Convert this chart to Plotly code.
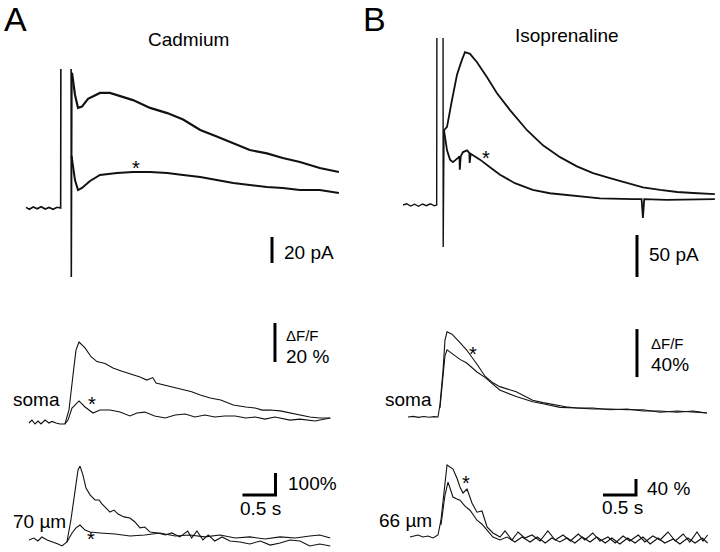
import plotly.graph_objects as go

# ---------------- DATA ----------------
# time in s (0 = stimulus), current in pA, fluorescence in % dF/F

# Panel A - whole-cell current
tA_base = [-0.53, -0.48, -0.42, -0.36, -0.30, -0.24, -0.18, -0.12, -0.06, -0.005]
iA_base = [0.5, -1.0, 0.8, -0.6, 1.0, -0.8, 0.4, -1.0, 0.6, 0.0]
tA_art = [0.0, 0.152, 0.156, 0.165]
iA_art = [200, 200, -53, 104]
tA_ctrl = [0.167, 0.212, 0.258, 0.318, 0.409, 0.515, 0.591, 0.742, 0.894, 1.09, 1.35,
           1.61, 1.85, 2.11, 2.36, 2.61, 2.86, 3.12, 3.36, 3.62, 3.92, 4.21]
iA_ctrl = [104, 87, 77, 78, 84, 87, 88.5, 88.5, 86, 83, 77,
           73, 68, 60, 55, 50, 44.6, 42, 38.5, 35.4, 30.8, 27.7]
tA_cd = [0.16, 0.212, 0.258, 0.318, 0.439, 0.591, 0.848, 1.09, 1.35, 1.61, 1.85,
         2.11, 2.36, 2.61, 2.86, 3.12, 3.36, 3.62, 3.92, 4.21]
iA_cd = [40, 21.5, 13.8, 15.4, 20.8, 25.4, 26.9, 27.7, 27.7, 26.9, 25.4,
         23.8, 21.5, 19.2, 17.7, 16.2, 15.4, 13.8, 13.8, 11.5]

# Panel B - whole-cell current
tB_base = [-0.515, -0.46, -0.40, -0.34, -0.28, -0.22, -0.16, -0.10, -0.04, -0.005]
iB_base = [0.0, 1.5, -1.2, 1.0, -1.5, 1.2, -0.8, 1.4, -1.0, 0.0]
tB_art = [0.0, 0.091, 0.094, 0.106]
iB_art = [300, 300, -50, 89]
tB_ctrl = [0.106, 0.152, 0.227, 0.303, 0.379, 0.424, 0.5, 0.606, 0.758, 0.909, 1.106,
           1.364, 1.606, 1.864, 2.12, 2.364, 2.62, 2.88, 3.12, 3.38, 3.64, 3.88, 4.21]
iB_ctrl = [89, 93, 125, 155, 173, 182, 180, 170, 152, 133, 113,
           89, 71, 57, 46, 38, 32, 26, 21, 18, 15.5, 14.3, 13]
tB_iso = [0.106, 0.152, 0.197, 0.242, 0.318, 0.34, 0.345, 0.36, 0.394, 0.455, 0.49,
          0.495, 0.51, 0.53, 0.652, 0.803, 0.955, 1.18, 1.45, 1.71, 1.97, 2.47,
          2.97, 3.10, 3.12, 3.14, 3.48, 4.21]
iB_iso = [89, 65, 54, 51, 56, 58, 42, 58, 63, 65, 62,
          50, 61, 60, 54, 45, 36, 26, 18, 14, 12, 8,
          7, 7, -15.5, 7, 6, 7]

# Panel A - soma fluorescence
tAs_base = [-0.485, -0.44, -0.394, -0.348, -0.303, -0.242, -0.182, -0.136, -0.076, -0.015, 0.06]
fAs_base = [0, 1.5, -0.5, 1, -0.5, 1.5, 0, 0.8, 0, -0.5, -0.5]
tAs_ctrl = [0.121, 0.182, 0.227, 0.273, 0.364, 0.455, 0.545, 0.667, 0.788, 0.924, 1.09,
            1.197, 1.30, 1.39, 1.44, 1.5, 1.61, 1.73, 1.85, 1.98, 2.11, 2.26, 2.42,
            2.61, 2.8, 2.94, 3.05, 3.17, 3.32, 3.5, 3.62, 3.77, 3.92, 4.08]
fAs_ctrl = [6.7, 24.6, 37.4, 41.5, 38.5, 34, 31.5, 30.5, 28.2, 26.5, 24.8,
            23.6, 22, 23.3, 20.5, 20, 19, 18, 17, 16, 14.4, 12.8, 11.8,
            9.2, 8.2, 7.7, 6.6, 6.7, 6.2, 5.1, 4.1, 3.1, 2.6, 2.6]
tAs_cd = [0.06, 0.106, 0.167, 0.227, 0.273, 0.364, 0.485, 0.59, 0.742, 0.894, 1.045,
          1.15, 1.27, 1.42, 1.58, 1.73, 1.88, 2.03, 2.18, 2.33, 2.48, 2.64, 2.8,
          2.94, 3.09, 3.24, 3.47, 3.62, 3.85, 4.08]
fAs_cd = [-0.5, 1.5, 7.7, 9.7, 11.3, 8.2, 5.1, 6.7, 6.7, 5.6, 3.6,
          5.1, 5.6, 3.6, 2.6, 4.1, 4.6, 3.1, 4.1, 3.1, 3.6, 3.6, 2.6,
          3.1, 2, 3.1, 1.5, 2, 1, 2.6]

# Panel A - dendrite (70 um) fluorescence
tAd_base = [-0.485, -0.41, -0.35, -0.29, -0.21, -0.12, -0.045, 0.015, 0.09]
fAd_base = [0, 9, -4.5, 13.6, 0, -9, -18, -27, -9]
tAd_ctrl = [0.15, 0.21, 0.258, 0.288, 0.333, 0.379, 0.44, 0.515, 0.576, 0.62, 0.68,
            0.742, 0.803, 0.864, 0.955, 1.045, 1.12, 1.197, 1.27, 1.35, 1.47, 1.58,
            1.68, 1.8, 1.92, 1.98, 2.06, 2.15, 2.23, 2.33, 2.44, 2.56, 2.71, 2.86,
            3.02, 3.17, 3.32, 3.47, 3.62, 3.77, 3.92, 4.08]
fAd_ctrl = [91, 227, 318, 336, 295, 236, 205, 182, 182, 164, 145,
            127, 136, 118, 105, 100, 82, 55, 59, 36, 32, 23,
            32, 14, 41, 9, 41, 0, 23, -4.5, 14, -4.5, -9, -18,
            -4.5, -23, -14, 0, -4.5, -27, -18, -27]
tAd_cd = [0.09, 0.167, 0.227, 0.288, 0.364, 0.44, 0.59, 0.82, 1.045, 1.27, 1.5,
          1.73, 1.95, 2.18, 2.41, 2.64, 2.86, 3.09, 3.32, 3.55, 3.77, 3.92, 4.08]
fAd_cd = [-9, 32, 55, 68, 45, 36, 32, 27, 18, 23, 32,
          18, 23, 14, 23, 9, 14, 4.5, 14, 9, 18, 23, 9]

# Panel B - soma fluorescence
tBs_base = [-0.44, -0.36, -0.28, -0.2, -0.12, -0.04, 0.015]
fBs_base = [0, 0.5, -0.3, 0.4, -0.2, 0.3, 0]
tBs_ctrl = [0.045, 0.091, 0.121, 0.152, 0.227, 0.348, 0.45, 0.606, 0.727, 0.848, 0.95,
            1.2, 1.45, 1.606, 1.864, 1.95, 2.12, 2.364, 2.62, 2.88, 3.12, 3.38,
            3.64, 3.88, 4.09]
fBs_ctrl = [10, 39, 64, 71, 69, 62, 55.8, 44, 34, 28.5, 25.3,
            21, 14, 12, 9, 8.6, 7.5, 7.5, 6, 6.7, 5, 5,
            4, 5, 3.3]
tBs_iso = [0.045, 0.091, 0.121, 0.152, 0.227, 0.348, 0.45, 0.606, 0.727, 0.848, 0.95,
           1.2, 1.45, 1.606, 1.864, 2.12, 2.364, 2.62, 2.88, 3.12, 3.38,
           3.64, 3.88, 4.09]
fBs_iso = [7.5, 31, 51, 56, 53, 48, 45, 37.5, 33, 27, 22.5,
           17, 12.7, 11, 8, 7.5, 6.7, 6.7, 6, 6, 4,
           5, 4, 3.3]

# Panel B - dendrite (66 um) fluorescence
tBd_base = [-0.41, -0.288, -0.212, -0.136, -0.06, 0.015]
fBd_base = [0, 5, 0, 2.5, -2.5, 5]
tBd_ctrl = [0.06, 0.106, 0.152, 0.242, 0.303, 0.348, 0.394, 0.455, 0.53, 0.606, 0.682,
            0.758, 0.848, 0.955, 1.03, 1.136, 1.227, 1.33, 1.44, 1.56, 1.68, 1.79,
            1.91, 2.02, 2.14, 2.24, 2.36, 2.47, 2.59, 2.7, 2.82, 2.92, 3.05, 3.15,
            3.27, 3.38, 3.5, 3.61, 3.73, 3.83, 3.94, 4.03, 4.1]
fBd_ctrl = [42, 117, 180, 170, 147, 125, 110, 120, 85, 62, 65,
            25, 10, 0, 15, -7.5, 12.5, -2.5, 5, -10, 15, -7.5,
            5, -10, 7.5, -7.5, 10, -10, 0, -15, 2.5, -10, 5, -12.5,
            2.5, -7.5, 12.5, -10, 7.5, -12.5, 12.5, -10, 5]
tBd_iso = [0.06, 0.121, 0.167, 0.212, 0.242, 0.303, 0.348, 0.424, 0.5, 0.606, 0.682,
           0.758, 0.848, 0.955, 1.06, 1.18, 1.29, 1.41, 1.52, 1.64, 1.74, 1.86,
           1.97, 2.09, 2.2, 2.32, 2.42, 2.55, 2.65, 2.77, 2.89, 3.0, 3.12, 3.23,
           3.35, 3.45, 3.58, 3.68, 3.8, 3.91, 4.02, 4.1]
fBd_iso = [30, 105, 137, 117, 100, 95, 92, 77, 67, 42, 32,
           17, 0, -7.5, 0, -12.5, 0, -12.5, 0, -15, -2.5, -12.5,
           -2.5, -15, 0, -12.5, 0, -15, -2.5, -17.5, -2.5, -15, 0, -17.5,
           -2.5, -15, -5, -17.5, -2.5, -15, -2.5, -15]

# ---------------- FIGURE ----------------
W, H = 720, 552
PX_PER_S = 66.0
FONT = "Liberation Sans, Arial, Helvetica, sans-serif"
INK = "#111111"

def ydom(top_px, bot_px):
    return [1 - bot_px / H, 1 - top_px / H]

def xrng(d0, d1, t0_px):
    return [(d0 - t0_px) / PX_PER_S, (d1 - t0_px) / PX_PER_S]

def yrng(top_px, bot_px, base_px, px_per_unit):
    return [(base_px - bot_px) / px_per_unit, (base_px - top_px) / px_per_unit]

# subplot geometry: (x domain px, t0 px, y domain px, baseline px, px per unit)
panels = {
    1: ((0, 360), 61, (69, 290), 208, 1.3),      # A current
    2: ((360, 720), 437, (38, 290), 205, 0.84),  # B current
    3: ((0, 360), 61, (290, 440), 423, 1.95),    # A soma
    4: ((360, 720), 437, (290, 440), 417, 1.2),  # B soma
    5: ((0, 360), 61, (440, 552), 540, 0.22),    # A 70 um
    6: ((360, 720), 437, (440, 552), 537, 0.4),  # B 66 um
}

fig = go.Figure()

def line(n, t, v, width=1.2, color=INK):
    xa = "x" if n == 1 else f"x{n}"
    ya = "y" if n == 1 else f"y{n}"
    fig.add_trace(go.Scatter(x=t, y=v, xaxis=xa, yaxis=ya, mode="lines",
                             line=dict(color=color, width=width),
                             showlegend=False, hoverinfo="skip"))

# currents
line(1, tA_base + tA_art, iA_base + iA_art, 1.6)
line(1, tA_ctrl, iA_ctrl, 2.2)
line(1, tA_cd, iA_cd, 2.0)
line(2, tB_base + tB_art, iB_base + iB_art, 1.4)
line(2, tB_ctrl, iB_ctrl, 1.8)
line(2, tB_iso, iB_iso, 1.8)
# fluorescence
line(3, tAs_base + tAs_ctrl, fAs_base + fAs_ctrl, 1.1)
line(3, tAs_cd, fAs_cd, 1.1)
line(4, tBs_base + tBs_ctrl, fBs_base + fBs_ctrl, 1.1)
line(4, tBs_iso, fBs_iso, 1.1)
line(5, tAd_base + tAd_ctrl, fAd_base + fAd_ctrl, 1.1)
line(5, tAd_cd, fAd_cd, 1.1)
line(6, tBd_base + tBd_ctrl, fBd_base + fBd_ctrl, 1.1)
line(6, tBd_iso, fBd_iso, 1.1)

layout = dict(width=W, height=H, margin=dict(l=0, r=0, t=0, b=0),
              paper_bgcolor="white", plot_bgcolor="white", showlegend=False)
for n, (xd, t0, yd, base, ppu) in panels.items():
    xk = "xaxis" if n == 1 else f"xaxis{n}"
    yk = "yaxis" if n == 1 else f"yaxis{n}"
    layout[xk] = dict(domain=[xd[0] / W, xd[1] / W], range=xrng(xd[0], xd[1], t0),
                      visible=False, anchor="y" if n == 1 else f"y{n}")
    layout[yk] = dict(domain=ydom(*yd), range=yrng(yd[0], yd[1], base, ppu),
                      visible=False, anchor="x" if n == 1 else f"x{n}")
fig.update_layout(**layout)

def ref(n):
    return ("x", "y") if n == 1 else (f"x{n}", f"y{n}")

# scale bars (in data units)
def vbar(n, t, y0, y1, w=3):
    xr, yr = ref(n)
    fig.add_shape(type="line", xref=xr, yref=yr, x0=t, x1=t, y0=y0, y1=y1,
                  line=dict(color="black", width=w))

def lbar(n, t, y0, dy, w=3):
    xr, yr = ref(n)
    fig.add_shape(type="path", xref=xr, yref=yr,
                  path=f"M {t-0.5},{y0} L {t},{y0} L {t},{y0+dy}",
                  line=dict(color="black", width=w))

vbar(1, 3.197, -42.3, -22.3)          # 20 pA
vbar(2, 3.03, -85.7, -35.7)           # 50 pA
vbar(3, 3.242, 31.3, 51.3)            # 20 %
vbar(4, 3.03, 33.3, 73.3)             # 40 %
lbar(5, 3.25, 204.5, 100)             # 100 % / 0.5 s
lbar(6, 3.015, 105, 40)               # 40 % / 0.5 s

def txt(n, t, v, s, size=19, xanchor="left", yanchor="middle"):
    xr, yr = ref(n)
    fig.add_annotation(x=t, y=v, xref=xr, yref=yr, text=s, showarrow=False,
                       xanchor=xanchor, yanchor=yanchor, borderpad=0,
                       font=dict(family=FONT, size=size, color="black"))

def ptxt(px, py, s, size=19, xanchor="center"):
    fig.add_annotation(x=px / W, y=1 - py / H, xref="paper", yref="paper", text=s,
                       showarrow=False, xanchor=xanchor, yanchor="middle", borderpad=0,
                       font=dict(family=FONT, size=size, color="black"))

ptxt(3, 19, "A", 34, "left")
ptxt(362, 19, "B", 34, "left")
ptxt(188, 40, "Cadmium", 19)
ptxt(567, 36, "Isoprenaline", 19)

txt(1, 3.364, -34.6, "20 pA")
txt(2, 3.197, -59.5, "50 pA")
# dF/F labels stacked: boundary at px 345 (A) and 353 (B)
txt(3, 3.394, (423 - 345) / 1.95, "ΔF/F", 15, "left", "bottom")
txt(3, 3.394, (423 - 345) / 1.95, "20 %", 19, "left", "top")
txt(4, 3.227, (417 - 353) / 1.2, "ΔF/F", 15, "left", "bottom")
txt(4, 3.227, (417 - 353) / 1.2, "40%", 19, "left", "top")
txt(3, 0.0, 11.8, "soma", 19, "right")
txt(4, -0.06, 14.2, "soma", 19, "right")
txt(5, 3.424, 259, "100%")
txt(5, 3.03, 145, "0.5 s", 19, "center")
txt(5, 0.09, 82, "70 µm", 19, "right")
txt(6, 3.167, 122.5, "40 %")
txt(6, 2.81, 75, "0.5 s", 19, "center")
txt(6, -0.06, 42.5, "66 µm", 19, "right")

# asterisks
txt(1, 1.136, 30.8, "*", 20, "center")
txt(2, 0.742, 56, "*", 20, "center")
txt(3, 0.47, 9.8, "*", 20, "center")
txt(4, 0.545, 52.5, "*", 20, "center")
txt(5, 0.455, 4.5, "*", 20, "center")
txt(6, 0.44, 135, "*", 20, "center")

fig.write_html("out.html", config={"displayModeBar": False},
               post_script="document.body.style.margin='0';document.body.style.overflow='hidden';")
